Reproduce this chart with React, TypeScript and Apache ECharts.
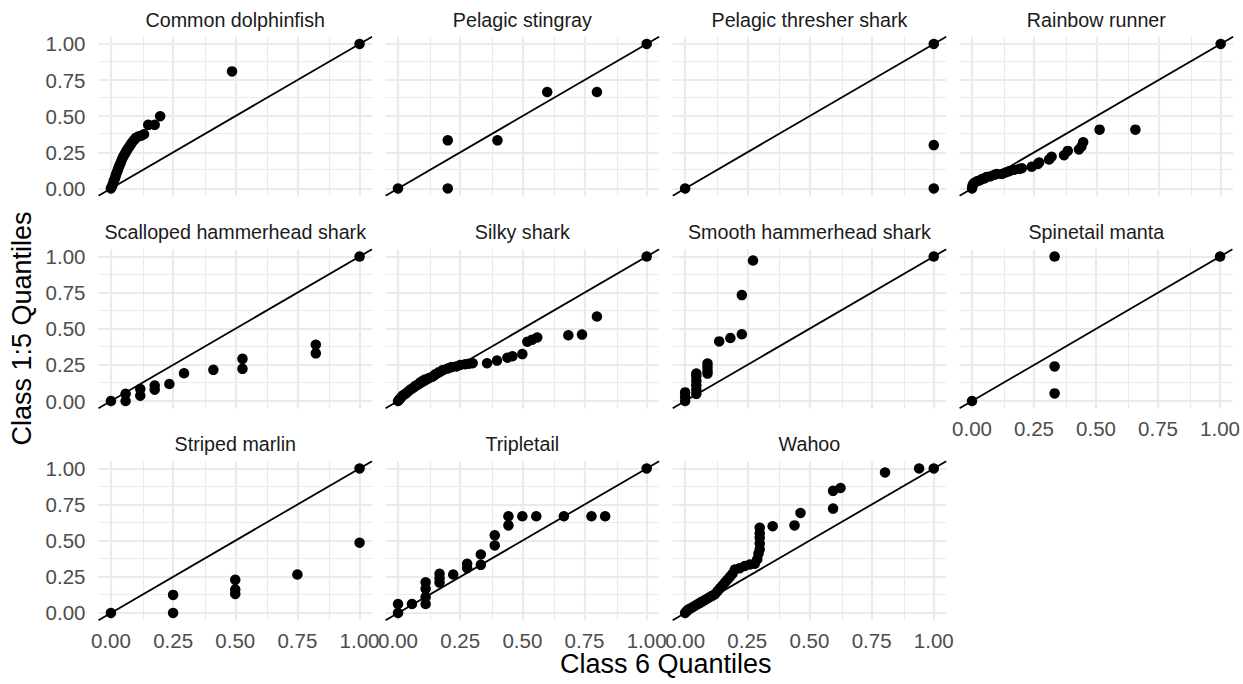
import React, { useEffect, useRef } from "react";
import * as echarts from "echarts";

// Facet titles, in panel order (4 columns, filled row by row)
const speciesNames = [
  "Common dolphinfish",
  "Pelagic stingray",
  "Pelagic thresher shark",
  "Rainbow runner",
  "Scalloped hammerhead shark",
  "Silky shark",
  "Smooth hammerhead shark",
  "Spinetail manta",
  "Striped marlin",
  "Tripletail",
  "Wahoo",
];

// [class 6 quantile, class 1:5 quantile]
const commonDolphinfish: [number, number][] = [
  [0, 0], [0.004, 0.015], [0.008, 0.03], [0.011, 0.05], [0.015, 0.065], [0.018, 0.08],
  [0.021, 0.1], [0.025, 0.115], [0.028, 0.13], [0.032, 0.15], [0.036, 0.165], [0.04, 0.18],
  [0.044, 0.2], [0.048, 0.215], [0.053, 0.23], [0.058, 0.245], [0.063, 0.26], [0.068, 0.275],
  [0.074, 0.29], [0.08, 0.305], [0.086, 0.32], [0.093, 0.335], [0.1, 0.35], [0.11, 0.36],
  [0.122, 0.365], [0.133, 0.375], [0.15, 0.44], [0.176, 0.44], [0.198, 0.5], [0.487, 0.81], [1, 1],
];
const pelagicStingray: [number, number][] = [
  [0, 0], [0.2, 0], [0.2, 0.333], [0.4, 0.333], [0.6, 0.667], [0.8, 0.667], [1, 1],
];
const pelagicThresher: [number, number][] = [
  [0, 0], [1, 0], [1, 0.3], [1, 1],
];
const rainbowRunner: [number, number][] = [
  [0, 0], [0.002, 0.02], [0.005, 0.03], [0.01, 0.04], [0.02, 0.05], [0.03, 0.055],
  [0.04, 0.065], [0.05, 0.07], [0.06, 0.08], [0.075, 0.085], [0.09, 0.095], [0.1, 0.1],
  [0.12, 0.1], [0.135, 0.11], [0.15, 0.12], [0.17, 0.13], [0.19, 0.135], [0.2, 0.14],
  [0.24, 0.15], [0.265, 0.17], [0.27, 0.18], [0.31, 0.2], [0.32, 0.22], [0.37, 0.23],
  [0.385, 0.26], [0.43, 0.27], [0.44, 0.29], [0.447, 0.32], [0.513, 0.407], [0.657, 0.407], [1, 1],
];
const scallopedHammerhead: [number, number][] = [
  [0, 0], [0.059, 0], [0.059, 0.05], [0.118, 0.037], [0.118, 0.083], [0.176, 0.079],
  [0.176, 0.107], [0.235, 0.118], [0.294, 0.192], [0.412, 0.216], [0.529, 0.223],
  [0.529, 0.292], [0.824, 0.33], [0.824, 0.39], [1, 1],
];
const silkyShark: [number, number][] = [
  [0, 0], [0.005, 0.01], [0.01, 0.02], [0.015, 0.03], [0.02, 0.04], [0.03, 0.05],
  [0.04, 0.065], [0.05, 0.08], [0.06, 0.09], [0.07, 0.105], [0.08, 0.115], [0.09, 0.13],
  [0.1, 0.14], [0.11, 0.15], [0.125, 0.16], [0.14, 0.17], [0.15, 0.185], [0.165, 0.2],
  [0.18, 0.215], [0.2, 0.225], [0.215, 0.235], [0.235, 0.24], [0.25, 0.25], [0.27, 0.255],
  [0.285, 0.258], [0.3, 0.262], [0.358, 0.262], [0.398, 0.28], [0.44, 0.3], [0.46, 0.31],
  [0.5, 0.325], [0.52, 0.41], [0.54, 0.425], [0.56, 0.44], [0.685, 0.455], [0.74, 0.46],
  [0.8, 0.585], [1, 1],
];
const smoothHammerhead: [number, number][] = [
  [0, 0], [0, 0.03], [0, 0.06], [0.045, 0.05], [0.045, 0.08], [0.045, 0.11], [0.045, 0.14],
  [0.045, 0.17], [0.045, 0.19], [0.09, 0.19], [0.09, 0.21], [0.09, 0.235], [0.09, 0.26],
  [0.137, 0.413], [0.182, 0.436], [0.228, 0.462], [0.228, 0.733], [0.273, 0.972], [1, 1],
];
const spinetailManta: [number, number][] = [
  [0, 0], [0.333, 0.053], [0.333, 0.24], [0.333, 1], [1, 1],
];
const stripedMarlin: [number, number][] = [
  [0, 0], [0.25, 0], [0.25, 0.125], [0.5, 0.132], [0.5, 0.162], [0.5, 0.229],
  [0.75, 0.266], [1, 0.486], [1, 1],
];
const tripletail: [number, number][] = [
  [0, 0], [0, 0.062], [0.056, 0.062], [0.111, 0.062], [0.111, 0.11], [0.111, 0.167],
  [0.111, 0.212], [0.167, 0.21], [0.167, 0.24], [0.167, 0.271], [0.222, 0.266],
  [0.278, 0.31], [0.278, 0.34], [0.333, 0.333], [0.333, 0.405], [0.389, 0.467],
  [0.389, 0.537], [0.444, 0.606], [0.444, 0.669], [0.5, 0.669], [0.556, 0.669],
  [0.667, 0.669], [0.778, 0.669], [0.833, 0.669], [1, 1],
];
const wahoo: [number, number][] = [
  [0, 0], [0.005, 0.01], [0.01, 0.02], [0.02, 0.03], [0.03, 0.04], [0.04, 0.05],
  [0.05, 0.06], [0.06, 0.07], [0.07, 0.08], [0.08, 0.09], [0.09, 0.1], [0.1, 0.11],
  [0.11, 0.12], [0.12, 0.13], [0.13, 0.15], [0.14, 0.17], [0.15, 0.19], [0.16, 0.21],
  [0.17, 0.23], [0.18, 0.25], [0.19, 0.27], [0.2, 0.3], [0.22, 0.31], [0.24, 0.325],
  [0.26, 0.335], [0.28, 0.34], [0.29, 0.37], [0.295, 0.41], [0.3, 0.44], [0.3, 0.48],
  [0.3, 0.52], [0.3, 0.55], [0.3, 0.59], [0.352, 0.6], [0.44, 0.606], [0.464, 0.692],
  [0.595, 0.722], [0.595, 0.845], [0.625, 0.865], [0.804, 0.972], [0.941, 1], [1, 1],
];

const panelData = [
  commonDolphinfish, pelagicStingray, pelagicThresher, rainbowRunner,
  scallopedHammerhead, silkyShark, smoothHammerhead, spinetailManta,
  stripedMarlin, tripletail, wahoo,
];

const majorBreaks = [0, 0.25, 0.5, 0.75, 1];
const minorBreaks = [0.125, 0.375, 0.625, 0.875];
const axisMin = -0.05;
const axisMax = 1.05;

const xTitle = "Class 6 Quantiles";
const yTitle = "Class 1:5 Quantiles";

const FONT = "'Liberation Sans', Arial, Helvetica, sans-serif";
const panelLeft = [98.5, 385.6, 672.7, 959.6];
const panelTop = [36.7, 249.3, 461.2];
const panelW = 273.5;
const panelH = 159;

function breakLabel(v: number): string {
  const q = v / 0.25;
  if (Math.abs(q - Math.round(q)) < 1e-6) return (Math.round(q) * 0.25).toFixed(2);
  return "";
}

function buildOption(): echarts.EChartsOption {
  const grid: any[] = [];
  const xAxis: any[] = [];
  const yAxis: any[] = [];
  const series: any[] = [];
  const graphic: any[] = [];

  panelData.forEach((pts, i) => {
    const col = i % 4;
    const row = Math.floor(i / 4);
    const left = panelLeft[col];
    const top = panelTop[row];
    grid.push({ left, top, width: panelW, height: panelH, containLabel: false });

    const showX = i >= 7;
    const showY = col === 0;
    const axisBase = {
      type: "value",
      gridIndex: i,
      min: axisMin,
      max: axisMax,
      interval: 0.05,
      axisLine: { show: false },
      axisTick: { show: false },
      splitLine: { show: false },
    };
    xAxis.push({
      ...axisBase,
      axisLabel: {
        show: showX,
        formatter: breakLabel,
        color: "#4D4D4D",
        fontSize: 20.5,
        fontFamily: FONT,
        margin: 10,
        showMinLabel: true,
        showMaxLabel: true,
      },
    });
    yAxis.push({
      ...axisBase,
      axisLabel: {
        show: showY,
        formatter: breakLabel,
        color: "#4D4D4D",
        fontSize: 20.5,
        fontFamily: FONT,
        margin: 13,
      },
    });

    const gridLines: any[] = [];
    minorBreaks.forEach((v) => {
      gridLines.push({ xAxis: v, lineStyle: { color: "#EBEBEB", width: 1.1, type: "solid" } });
      gridLines.push({ yAxis: v, lineStyle: { color: "#EBEBEB", width: 1.1, type: "solid" } });
    });
    majorBreaks.forEach((v) => {
      gridLines.push({ xAxis: v, lineStyle: { color: "#EBEBEB", width: 2.2, type: "solid" } });
      gridLines.push({ yAxis: v, lineStyle: { color: "#EBEBEB", width: 2.2, type: "solid" } });
    });

    // panel grid lines
    series.push({
      type: "line",
      xAxisIndex: i,
      yAxisIndex: i,
      data: [[axisMin, axisMin]],
      symbol: "none",
      lineStyle: { opacity: 0 },
      silent: true,
      z: 1,
      markLine: {
        silent: true,
        z: 1,
        symbol: ["none", "none"],
        label: { show: false },
        emphasis: { disabled: true },
        animation: false,
        data: gridLines,
      },
    });
    // reference line y = x
    series.push({
      type: "line",
      xAxisIndex: i,
      yAxisIndex: i,
      data: [[axisMin, axisMin], [axisMax, axisMax]],
      symbol: "none",
      lineStyle: { color: "#000000", width: 1.8 },
      silent: true,
      z: 2,
    });
    // quantile points
    series.push({
      type: "scatter",
      xAxisIndex: i,
      yAxisIndex: i,
      data: pts,
      symbol: "circle",
      symbolSize: 10.5,
      itemStyle: { color: "#000000", opacity: 1 },
      clip: false,
      z: 3,
    });

    graphic.push({
      type: "text",
      x: left + panelW / 2,
      y: top - 17,
      style: {
        text: speciesNames[i],
        fontSize: 19.7,
        fontFamily: FONT,
        fill: "#1A1A1A",
        align: "center",
        verticalAlign: "middle",
      },
    });
  });

  const plotCenterX = (panelLeft[0] + panelLeft[3] + panelW) / 2;
  const plotCenterY = (panelTop[0] + panelTop[2] + panelH) / 2;
  graphic.push({
    type: "text",
    x: plotCenterX,
    y: 664,
    style: {
      text: xTitle,
      fontSize: 27,
      fontFamily: FONT,
      fill: "#000000",
      align: "center",
      verticalAlign: "middle",
    },
  });
  graphic.push({
    type: "text",
    x: 22,
    y: plotCenterY,
    rotation: Math.PI / 2,
    style: {
      text: yTitle,
      fontSize: 27,
      fontFamily: FONT,
      fill: "#000000",
      align: "center",
      verticalAlign: "middle",
    },
  });

  return {
    animation: false,
    backgroundColor: "#FFFFFF",
    grid,
    xAxis,
    yAxis,
    series,
    graphic,
  };
}

export default function App() {
  const ref = useRef<HTMLDivElement>(null);
  useEffect(() => {
    if (!ref.current) return;
    const chart = echarts.init(ref.current, undefined, { renderer: "svg" });
    chart.setOption(buildOption());
    return () => chart.dispose();
  }, []);
  return (
    <div
      ref={ref}
      style={{ position: "fixed", left: 0, top: 0, width: 1243, height: 684 }}
    />
  );
}
